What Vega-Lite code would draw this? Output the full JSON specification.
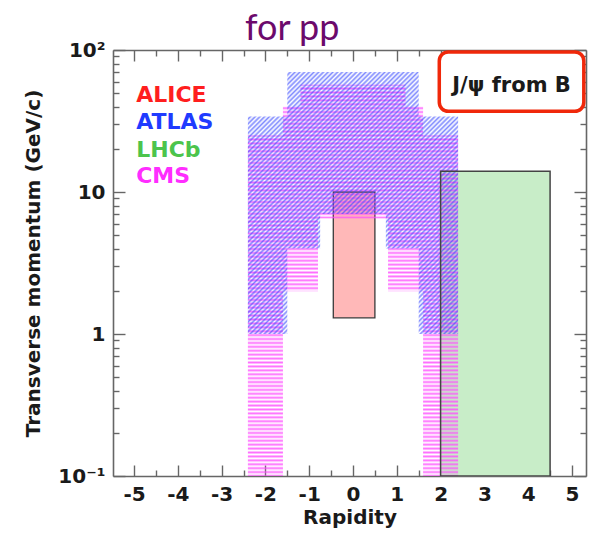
{
  "$schema": "https://vega.github.io/schema/vega-lite/v6.json",
  "autosize": {"type": "none"},
  "width": 473,
  "height": 426,
  "padding": {"left": 113, "top": 50, "right": 6, "bottom": 61},
  "background": "white",
  "datasets": {
    "heading": [{"label": "for pp", "rap": -1.39, "pt": 117.6}],
    "lhcb": [{"exp": "LHCb", "rap_min": 2.0, "rap_max": 4.5, "pt_min": 0.1, "pt_max": 14}],
    "alice": [{"exp": "ALICE", "rap_min": -0.45, "rap_max": 0.5, "pt_min": 1.3, "pt_max": 10}],
    "cms": [
      {"rap": -2.4, "pt_min": 0.1, "pt_max": 25},
      {"rap": -1.6, "pt_min": 2, "pt_max": 40},
      {"rap": -1.2, "pt_min": 2, "pt_max": 57},
      {"rap": -0.8, "pt_min": 6.5, "pt_max": 57},
      {"rap": 0.8, "pt_min": 2, "pt_max": 57},
      {"rap": 1.2, "pt_min": 2, "pt_max": 40},
      {"rap": 1.6, "pt_min": 0.1, "pt_max": 25},
      {"rap": 2.4, "pt_min": 0.1, "pt_max": 25}
    ],
    "atlas": [
      {"rap": -2.4, "pt_min": 1, "pt_max": 34},
      {"rap": -1.5, "pt_min": 4, "pt_max": 70},
      {"rap": -0.75, "pt_min": 7, "pt_max": 70},
      {"rap": 0.75, "pt_min": 4, "pt_max": 70},
      {"rap": 1.5, "pt_min": 1, "pt_max": 34},
      {"rap": 2.4, "pt_min": 1, "pt_max": 34}
    ],
    "tag": [{"label": "J/ψ from B", "rap_min": 1.97, "rap_max": 5.27, "pt_min": 37, "pt_max": 97, "rap": 3.62, "pt": 50.6}],
    "experiments": [
      {"name": "ALICE", "rap": -4.95, "pt": 43.1},
      {"name": "ATLAS", "rap": -4.95, "pt": 27.8},
      {"name": "LHCb", "rap": -4.95, "pt": 17.6},
      {"name": "CMS", "rap": -4.95, "pt": 11.6}
    ]
  },
  "resolve": {"axis": {"x": "independent", "y": "independent"}},
  "layer": [
    {
      "data": {"name": "lhcb"},
      "mark": {"type": "rect", "fill": "#c8edc8", "clip": true},
      "encoding": {
        "x": {"field": "rap_min", "type": "quantitative", "scale": {"domain": [-5.48, 5.32], "nice": false, "zero": false},
          "axis": {"orient": "bottom", "title": "Rapidity",
            "values": [-5,-4.5,-4,-3.5,-3,-2.5,-2,-1.5,-1,-0.5,0,0.5,1,1.5,2,2.5,3,3.5,4,4.5,5],
            "labelExpr": "datum.value % 1 == 0 ? '' + datum.value : ''",
            "tickSize": {"condition": {"test": "datum.value % 1 == 0", "value": -11}, "value": -6},
            "labelPadding": 19, "titlePadding": -2}},
        "x2": {"field": "rap_max"},
        "y": {"field": "pt_min", "type": "quantitative", "scale": {"type": "log", "domain": [0.1, 100], "nice": false},
          "axis": {"orient": "left", "title": "Transverse momentum (GeV/c)",
            "values": [0.1,0.2,0.3,0.4,0.5,0.6,0.7,0.8,0.9,1,2,3,4,5,6,7,8,9,10,20,30,40,50,60,70,80,90,100],
            "labelExpr": "datum.value == 100 ? '10²' : datum.value == 10 ? '10' : datum.value == 1 ? '1' : datum.value == 0.1 ? '10⁻¹' : ''",
            "tickSize": {"condition": {"test": "indexof([0.1,1,10,100], datum.value) >= 0", "value": -12}, "value": -6},
            "labelPadding": 20, "titlePadding": 14}},
        "y2": {"field": "pt_max"}
      }
    },
    {
      "data": {"name": "alice"},
      "mark": {"type": "rect", "fill": "#ffb8b8", "stroke": "#3a3a3a", "strokeWidth": 1.3, "clip": true},
      "encoding": {
        "x": {"field": "rap_min", "type": "quantitative", "axis": null},
        "x2": {"field": "rap_max"},
        "y": {"field": "pt_min", "type": "quantitative", "axis": null},
        "y2": {"field": "pt_max"}
      }
    },
    {
      "data": {"name": "cms"},
      "mark": {"type": "area", "interpolate": "step-after", "clip": true,
        "fill": {"gradient": "linear", "x1": 0, "y1": 0, "x2": 0, "y2": 1, "stops": [
{"offset":0,"color":"#ff4affcc"},{"offset":0.005,"color":"#ff4aff00"},{"offset":0.01,"color":"#ff4affcc"},{"offset":0.015,"color":"#ff4aff00"},{"offset":0.02,"color":"#ff4affcc"},{"offset":0.025,"color":"#ff4aff00"},{"offset":0.03,"color":"#ff4affcc"},{"offset":0.035,"color":"#ff4aff00"},{"offset":0.04,"color":"#ff4affcc"},{"offset":0.045,"color":"#ff4aff00"},
{"offset":0.05,"color":"#ff4affcc"},{"offset":0.055,"color":"#ff4aff00"},{"offset":0.06,"color":"#ff4affcc"},{"offset":0.065,"color":"#ff4aff00"},{"offset":0.07,"color":"#ff4affcc"},{"offset":0.075,"color":"#ff4aff00"},{"offset":0.08,"color":"#ff4affcc"},{"offset":0.085,"color":"#ff4aff00"},{"offset":0.09,"color":"#ff4affcc"},{"offset":0.095,"color":"#ff4aff00"},
{"offset":0.1,"color":"#ff4affcc"},{"offset":0.105,"color":"#ff4aff00"},{"offset":0.11,"color":"#ff4affcc"},{"offset":0.115,"color":"#ff4aff00"},{"offset":0.12,"color":"#ff4affcc"},{"offset":0.125,"color":"#ff4aff00"},{"offset":0.13,"color":"#ff4affcc"},{"offset":0.135,"color":"#ff4aff00"},{"offset":0.14,"color":"#ff4affcc"},{"offset":0.145,"color":"#ff4aff00"},
{"offset":0.15,"color":"#ff4affcc"},{"offset":0.155,"color":"#ff4aff00"},{"offset":0.16,"color":"#ff4affcc"},{"offset":0.165,"color":"#ff4aff00"},{"offset":0.17,"color":"#ff4affcc"},{"offset":0.175,"color":"#ff4aff00"},{"offset":0.18,"color":"#ff4affcc"},{"offset":0.185,"color":"#ff4aff00"},{"offset":0.19,"color":"#ff4affcc"},{"offset":0.195,"color":"#ff4aff00"},
{"offset":0.2,"color":"#ff4affcc"},{"offset":0.205,"color":"#ff4aff00"},{"offset":0.21,"color":"#ff4affcc"},{"offset":0.215,"color":"#ff4aff00"},{"offset":0.22,"color":"#ff4affcc"},{"offset":0.225,"color":"#ff4aff00"},{"offset":0.23,"color":"#ff4affcc"},{"offset":0.235,"color":"#ff4aff00"},{"offset":0.24,"color":"#ff4affcc"},{"offset":0.245,"color":"#ff4aff00"},
{"offset":0.25,"color":"#ff4affcc"},{"offset":0.255,"color":"#ff4aff00"},{"offset":0.26,"color":"#ff4affcc"},{"offset":0.265,"color":"#ff4aff00"},{"offset":0.27,"color":"#ff4affcc"},{"offset":0.275,"color":"#ff4aff00"},{"offset":0.28,"color":"#ff4affcc"},{"offset":0.285,"color":"#ff4aff00"},{"offset":0.29,"color":"#ff4affcc"},{"offset":0.295,"color":"#ff4aff00"},
{"offset":0.3,"color":"#ff4affcc"},{"offset":0.305,"color":"#ff4aff00"},{"offset":0.31,"color":"#ff4affcc"},{"offset":0.315,"color":"#ff4aff00"},{"offset":0.32,"color":"#ff4affcc"},{"offset":0.325,"color":"#ff4aff00"},{"offset":0.33,"color":"#ff4affcc"},{"offset":0.335,"color":"#ff4aff00"},{"offset":0.34,"color":"#ff4affcc"},{"offset":0.345,"color":"#ff4aff00"},
{"offset":0.35,"color":"#ff4affcc"},{"offset":0.355,"color":"#ff4aff00"},{"offset":0.36,"color":"#ff4affcc"},{"offset":0.365,"color":"#ff4aff00"},{"offset":0.37,"color":"#ff4affcc"},{"offset":0.375,"color":"#ff4aff00"},{"offset":0.38,"color":"#ff4affcc"},{"offset":0.385,"color":"#ff4aff00"},{"offset":0.39,"color":"#ff4affcc"},{"offset":0.395,"color":"#ff4aff00"},
{"offset":0.4,"color":"#ff4affcc"},{"offset":0.405,"color":"#ff4aff00"},{"offset":0.41,"color":"#ff4affcc"},{"offset":0.415,"color":"#ff4aff00"},{"offset":0.42,"color":"#ff4affcc"},{"offset":0.425,"color":"#ff4aff00"},{"offset":0.43,"color":"#ff4affcc"},{"offset":0.435,"color":"#ff4aff00"},{"offset":0.44,"color":"#ff4affcc"},{"offset":0.445,"color":"#ff4aff00"},
{"offset":0.45,"color":"#ff4affcc"},{"offset":0.455,"color":"#ff4aff00"},{"offset":0.46,"color":"#ff4affcc"},{"offset":0.465,"color":"#ff4aff00"},{"offset":0.47,"color":"#ff4affcc"},{"offset":0.475,"color":"#ff4aff00"},{"offset":0.48,"color":"#ff4affcc"},{"offset":0.485,"color":"#ff4aff00"},{"offset":0.49,"color":"#ff4affcc"},{"offset":0.495,"color":"#ff4aff00"},
{"offset":0.5,"color":"#ff4affcc"},{"offset":0.505,"color":"#ff4aff00"},{"offset":0.51,"color":"#ff4affcc"},{"offset":0.515,"color":"#ff4aff00"},{"offset":0.52,"color":"#ff4affcc"},{"offset":0.525,"color":"#ff4aff00"},{"offset":0.53,"color":"#ff4affcc"},{"offset":0.535,"color":"#ff4aff00"},{"offset":0.54,"color":"#ff4affcc"},{"offset":0.545,"color":"#ff4aff00"},
{"offset":0.55,"color":"#ff4affcc"},{"offset":0.555,"color":"#ff4aff00"},{"offset":0.56,"color":"#ff4affcc"},{"offset":0.565,"color":"#ff4aff00"},{"offset":0.57,"color":"#ff4affcc"},{"offset":0.575,"color":"#ff4aff00"},{"offset":0.58,"color":"#ff4affcc"},{"offset":0.585,"color":"#ff4aff00"},{"offset":0.59,"color":"#ff4affcc"},{"offset":0.595,"color":"#ff4aff00"},
{"offset":0.6,"color":"#ff4affcc"},{"offset":0.605,"color":"#ff4aff00"},{"offset":0.61,"color":"#ff4affcc"},{"offset":0.615,"color":"#ff4aff00"},{"offset":0.62,"color":"#ff4affcc"},{"offset":0.625,"color":"#ff4aff00"},{"offset":0.63,"color":"#ff4affcc"},{"offset":0.635,"color":"#ff4aff00"},{"offset":0.64,"color":"#ff4affcc"},{"offset":0.645,"color":"#ff4aff00"},
{"offset":0.65,"color":"#ff4affcc"},{"offset":0.655,"color":"#ff4aff00"},{"offset":0.66,"color":"#ff4affcc"},{"offset":0.665,"color":"#ff4aff00"},{"offset":0.67,"color":"#ff4affcc"},{"offset":0.675,"color":"#ff4aff00"},{"offset":0.68,"color":"#ff4affcc"},{"offset":0.685,"color":"#ff4aff00"},{"offset":0.69,"color":"#ff4affcc"},{"offset":0.695,"color":"#ff4aff00"},
{"offset":0.7,"color":"#ff4affcc"},{"offset":0.705,"color":"#ff4aff00"},{"offset":0.71,"color":"#ff4affcc"},{"offset":0.715,"color":"#ff4aff00"},{"offset":0.72,"color":"#ff4affcc"},{"offset":0.725,"color":"#ff4aff00"},{"offset":0.73,"color":"#ff4affcc"},{"offset":0.735,"color":"#ff4aff00"},{"offset":0.74,"color":"#ff4affcc"},{"offset":0.745,"color":"#ff4aff00"},
{"offset":0.75,"color":"#ff4affcc"},{"offset":0.755,"color":"#ff4aff00"},{"offset":0.76,"color":"#ff4affcc"},{"offset":0.765,"color":"#ff4aff00"},{"offset":0.77,"color":"#ff4affcc"},{"offset":0.775,"color":"#ff4aff00"},{"offset":0.78,"color":"#ff4affcc"},{"offset":0.785,"color":"#ff4aff00"},{"offset":0.79,"color":"#ff4affcc"},{"offset":0.795,"color":"#ff4aff00"},
{"offset":0.8,"color":"#ff4affcc"},{"offset":0.805,"color":"#ff4aff00"},{"offset":0.81,"color":"#ff4affcc"},{"offset":0.815,"color":"#ff4aff00"},{"offset":0.82,"color":"#ff4affcc"},{"offset":0.825,"color":"#ff4aff00"},{"offset":0.83,"color":"#ff4affcc"},{"offset":0.835,"color":"#ff4aff00"},{"offset":0.84,"color":"#ff4affcc"},{"offset":0.845,"color":"#ff4aff00"},
{"offset":0.85,"color":"#ff4affcc"},{"offset":0.855,"color":"#ff4aff00"},{"offset":0.86,"color":"#ff4affcc"},{"offset":0.865,"color":"#ff4aff00"},{"offset":0.87,"color":"#ff4affcc"},{"offset":0.875,"color":"#ff4aff00"},{"offset":0.88,"color":"#ff4affcc"},{"offset":0.885,"color":"#ff4aff00"},{"offset":0.89,"color":"#ff4affcc"},{"offset":0.895,"color":"#ff4aff00"},
{"offset":0.9,"color":"#ff4affcc"},{"offset":0.905,"color":"#ff4aff00"},{"offset":0.91,"color":"#ff4affcc"},{"offset":0.915,"color":"#ff4aff00"},{"offset":0.92,"color":"#ff4affcc"},{"offset":0.925,"color":"#ff4aff00"},{"offset":0.93,"color":"#ff4affcc"},{"offset":0.935,"color":"#ff4aff00"},{"offset":0.94,"color":"#ff4affcc"},{"offset":0.945,"color":"#ff4aff00"},
{"offset":0.95,"color":"#ff4affcc"},{"offset":0.955,"color":"#ff4aff00"},{"offset":0.96,"color":"#ff4affcc"},{"offset":0.965,"color":"#ff4aff00"},{"offset":0.97,"color":"#ff4affcc"},{"offset":0.975,"color":"#ff4aff00"},{"offset":0.98,"color":"#ff4affcc"},{"offset":0.985,"color":"#ff4aff00"},{"offset":0.99,"color":"#ff4affcc"},{"offset":0.995,"color":"#ff4aff00"},
{"offset":1,"color":"#ff4affcc"}
        ]}},
      "encoding": {
        "x": {"field": "rap", "type": "quantitative", "axis": null},
        "y": {"field": "pt_max", "type": "quantitative", "axis": null},
        "y2": {"field": "pt_min"}
      }
    },
    {
      "data": {"name": "atlas"},
      "mark": {"type": "area", "interpolate": "step-after", "clip": true,
        "fill": {"gradient": "linear", "x1": 0, "y1": 0, "x2": 0.879, "y2": 1.097, "stops": [
{"offset":0,"color":"#3b4cffa6"},{"offset":0.005,"color":"#3b4cff00"},{"offset":0.01,"color":"#3b4cffa6"},{"offset":0.015,"color":"#3b4cff00"},{"offset":0.02,"color":"#3b4cffa6"},{"offset":0.025,"color":"#3b4cff00"},{"offset":0.03,"color":"#3b4cffa6"},{"offset":0.035,"color":"#3b4cff00"},{"offset":0.04,"color":"#3b4cffa6"},{"offset":0.045,"color":"#3b4cff00"},
{"offset":0.05,"color":"#3b4cffa6"},{"offset":0.055,"color":"#3b4cff00"},{"offset":0.06,"color":"#3b4cffa6"},{"offset":0.065,"color":"#3b4cff00"},{"offset":0.07,"color":"#3b4cffa6"},{"offset":0.075,"color":"#3b4cff00"},{"offset":0.08,"color":"#3b4cffa6"},{"offset":0.085,"color":"#3b4cff00"},{"offset":0.09,"color":"#3b4cffa6"},{"offset":0.095,"color":"#3b4cff00"},
{"offset":0.1,"color":"#3b4cffa6"},{"offset":0.105,"color":"#3b4cff00"},{"offset":0.11,"color":"#3b4cffa6"},{"offset":0.115,"color":"#3b4cff00"},{"offset":0.12,"color":"#3b4cffa6"},{"offset":0.125,"color":"#3b4cff00"},{"offset":0.13,"color":"#3b4cffa6"},{"offset":0.135,"color":"#3b4cff00"},{"offset":0.14,"color":"#3b4cffa6"},{"offset":0.145,"color":"#3b4cff00"},
{"offset":0.15,"color":"#3b4cffa6"},{"offset":0.155,"color":"#3b4cff00"},{"offset":0.16,"color":"#3b4cffa6"},{"offset":0.165,"color":"#3b4cff00"},{"offset":0.17,"color":"#3b4cffa6"},{"offset":0.175,"color":"#3b4cff00"},{"offset":0.18,"color":"#3b4cffa6"},{"offset":0.185,"color":"#3b4cff00"},{"offset":0.19,"color":"#3b4cffa6"},{"offset":0.195,"color":"#3b4cff00"},
{"offset":0.2,"color":"#3b4cffa6"},{"offset":0.205,"color":"#3b4cff00"},{"offset":0.21,"color":"#3b4cffa6"},{"offset":0.215,"color":"#3b4cff00"},{"offset":0.22,"color":"#3b4cffa6"},{"offset":0.225,"color":"#3b4cff00"},{"offset":0.23,"color":"#3b4cffa6"},{"offset":0.235,"color":"#3b4cff00"},{"offset":0.24,"color":"#3b4cffa6"},{"offset":0.245,"color":"#3b4cff00"},
{"offset":0.25,"color":"#3b4cffa6"},{"offset":0.255,"color":"#3b4cff00"},{"offset":0.26,"color":"#3b4cffa6"},{"offset":0.265,"color":"#3b4cff00"},{"offset":0.27,"color":"#3b4cffa6"},{"offset":0.275,"color":"#3b4cff00"},{"offset":0.28,"color":"#3b4cffa6"},{"offset":0.285,"color":"#3b4cff00"},{"offset":0.29,"color":"#3b4cffa6"},{"offset":0.295,"color":"#3b4cff00"},
{"offset":0.3,"color":"#3b4cffa6"},{"offset":0.305,"color":"#3b4cff00"},{"offset":0.31,"color":"#3b4cffa6"},{"offset":0.315,"color":"#3b4cff00"},{"offset":0.32,"color":"#3b4cffa6"},{"offset":0.325,"color":"#3b4cff00"},{"offset":0.33,"color":"#3b4cffa6"},{"offset":0.335,"color":"#3b4cff00"},{"offset":0.34,"color":"#3b4cffa6"},{"offset":0.345,"color":"#3b4cff00"},
{"offset":0.35,"color":"#3b4cffa6"},{"offset":0.355,"color":"#3b4cff00"},{"offset":0.36,"color":"#3b4cffa6"},{"offset":0.365,"color":"#3b4cff00"},{"offset":0.37,"color":"#3b4cffa6"},{"offset":0.375,"color":"#3b4cff00"},{"offset":0.38,"color":"#3b4cffa6"},{"offset":0.385,"color":"#3b4cff00"},{"offset":0.39,"color":"#3b4cffa6"},{"offset":0.395,"color":"#3b4cff00"},
{"offset":0.4,"color":"#3b4cffa6"},{"offset":0.405,"color":"#3b4cff00"},{"offset":0.41,"color":"#3b4cffa6"},{"offset":0.415,"color":"#3b4cff00"},{"offset":0.42,"color":"#3b4cffa6"},{"offset":0.425,"color":"#3b4cff00"},{"offset":0.43,"color":"#3b4cffa6"},{"offset":0.435,"color":"#3b4cff00"},{"offset":0.44,"color":"#3b4cffa6"},{"offset":0.445,"color":"#3b4cff00"},
{"offset":0.45,"color":"#3b4cffa6"},{"offset":0.455,"color":"#3b4cff00"},{"offset":0.46,"color":"#3b4cffa6"},{"offset":0.465,"color":"#3b4cff00"},{"offset":0.47,"color":"#3b4cffa6"},{"offset":0.475,"color":"#3b4cff00"},{"offset":0.48,"color":"#3b4cffa6"},{"offset":0.485,"color":"#3b4cff00"},{"offset":0.49,"color":"#3b4cffa6"},{"offset":0.495,"color":"#3b4cff00"},
{"offset":0.5,"color":"#3b4cffa6"},{"offset":0.505,"color":"#3b4cff00"},{"offset":0.51,"color":"#3b4cffa6"},{"offset":0.515,"color":"#3b4cff00"},{"offset":0.52,"color":"#3b4cffa6"},{"offset":0.525,"color":"#3b4cff00"},{"offset":0.53,"color":"#3b4cffa6"},{"offset":0.535,"color":"#3b4cff00"},{"offset":0.54,"color":"#3b4cffa6"},{"offset":0.545,"color":"#3b4cff00"},
{"offset":0.55,"color":"#3b4cffa6"},{"offset":0.555,"color":"#3b4cff00"},{"offset":0.56,"color":"#3b4cffa6"},{"offset":0.565,"color":"#3b4cff00"},{"offset":0.57,"color":"#3b4cffa6"},{"offset":0.575,"color":"#3b4cff00"},{"offset":0.58,"color":"#3b4cffa6"},{"offset":0.585,"color":"#3b4cff00"},{"offset":0.59,"color":"#3b4cffa6"},{"offset":0.595,"color":"#3b4cff00"},
{"offset":0.6,"color":"#3b4cffa6"},{"offset":0.605,"color":"#3b4cff00"},{"offset":0.61,"color":"#3b4cffa6"},{"offset":0.615,"color":"#3b4cff00"},{"offset":0.62,"color":"#3b4cffa6"},{"offset":0.625,"color":"#3b4cff00"},{"offset":0.63,"color":"#3b4cffa6"},{"offset":0.635,"color":"#3b4cff00"},{"offset":0.64,"color":"#3b4cffa6"},{"offset":0.645,"color":"#3b4cff00"},
{"offset":0.65,"color":"#3b4cffa6"},{"offset":0.655,"color":"#3b4cff00"},{"offset":0.66,"color":"#3b4cffa6"},{"offset":0.665,"color":"#3b4cff00"},{"offset":0.67,"color":"#3b4cffa6"},{"offset":0.675,"color":"#3b4cff00"},{"offset":0.68,"color":"#3b4cffa6"},{"offset":0.685,"color":"#3b4cff00"},{"offset":0.69,"color":"#3b4cffa6"},{"offset":0.695,"color":"#3b4cff00"},
{"offset":0.7,"color":"#3b4cffa6"},{"offset":0.705,"color":"#3b4cff00"},{"offset":0.71,"color":"#3b4cffa6"},{"offset":0.715,"color":"#3b4cff00"},{"offset":0.72,"color":"#3b4cffa6"},{"offset":0.725,"color":"#3b4cff00"},{"offset":0.73,"color":"#3b4cffa6"},{"offset":0.735,"color":"#3b4cff00"},{"offset":0.74,"color":"#3b4cffa6"},{"offset":0.745,"color":"#3b4cff00"},
{"offset":0.75,"color":"#3b4cffa6"},{"offset":0.755,"color":"#3b4cff00"},{"offset":0.76,"color":"#3b4cffa6"},{"offset":0.765,"color":"#3b4cff00"},{"offset":0.77,"color":"#3b4cffa6"},{"offset":0.775,"color":"#3b4cff00"},{"offset":0.78,"color":"#3b4cffa6"},{"offset":0.785,"color":"#3b4cff00"},{"offset":0.79,"color":"#3b4cffa6"},{"offset":0.795,"color":"#3b4cff00"},
{"offset":0.8,"color":"#3b4cffa6"},{"offset":0.805,"color":"#3b4cff00"},{"offset":0.81,"color":"#3b4cffa6"},{"offset":0.815,"color":"#3b4cff00"},{"offset":0.82,"color":"#3b4cffa6"},{"offset":0.825,"color":"#3b4cff00"},{"offset":0.83,"color":"#3b4cffa6"},{"offset":0.835,"color":"#3b4cff00"},{"offset":0.84,"color":"#3b4cffa6"},{"offset":0.845,"color":"#3b4cff00"},
{"offset":0.85,"color":"#3b4cffa6"},{"offset":0.855,"color":"#3b4cff00"},{"offset":0.86,"color":"#3b4cffa6"},{"offset":0.865,"color":"#3b4cff00"},{"offset":0.87,"color":"#3b4cffa6"},{"offset":0.875,"color":"#3b4cff00"},{"offset":0.88,"color":"#3b4cffa6"},{"offset":0.885,"color":"#3b4cff00"},{"offset":0.89,"color":"#3b4cffa6"},{"offset":0.895,"color":"#3b4cff00"},
{"offset":0.9,"color":"#3b4cffa6"},{"offset":0.905,"color":"#3b4cff00"},{"offset":0.91,"color":"#3b4cffa6"},{"offset":0.915,"color":"#3b4cff00"},{"offset":0.92,"color":"#3b4cffa6"},{"offset":0.925,"color":"#3b4cff00"},{"offset":0.93,"color":"#3b4cffa6"},{"offset":0.935,"color":"#3b4cff00"},{"offset":0.94,"color":"#3b4cffa6"},{"offset":0.945,"color":"#3b4cff00"},
{"offset":0.95,"color":"#3b4cffa6"},{"offset":0.955,"color":"#3b4cff00"},{"offset":0.96,"color":"#3b4cffa6"},{"offset":0.965,"color":"#3b4cff00"},{"offset":0.97,"color":"#3b4cffa6"},{"offset":0.975,"color":"#3b4cff00"},{"offset":0.98,"color":"#3b4cffa6"},{"offset":0.985,"color":"#3b4cff00"},{"offset":0.99,"color":"#3b4cffa6"},{"offset":0.995,"color":"#3b4cff00"},
{"offset":1,"color":"#3b4cffa6"}
        ]}},
      "encoding": {
        "x": {"field": "rap", "type": "quantitative", "axis": null},
        "y": {"field": "pt_max", "type": "quantitative", "axis": null},
        "y2": {"field": "pt_min"}
      }
    },
    {
      "data": {"name": "lhcb"},
      "mark": {"type": "rect", "fill": "transparent", "stroke": "#444444", "strokeWidth": 1.5, "clip": true},
      "encoding": {
        "x": {"field": "rap_min", "type": "quantitative",
          "axis": {"orient": "top", "title": null, "labels": false,
            "values": [-5,-4.5,-4,-3.5,-3,-2.5,-2,-1.5,-1,-0.5,0,0.5,1,1.5,2,2.5,3,3.5,4,4.5,5],
            "tickSize": {"condition": {"test": "datum.value % 1 == 0", "value": -11}, "value": -6}}},
        "x2": {"field": "rap_max"},
        "y": {"field": "pt_min", "type": "quantitative",
          "axis": {"orient": "right", "title": null, "labels": false,
            "values": [0.1,0.2,0.3,0.4,0.5,0.6,0.7,0.8,0.9,1,2,3,4,5,6,7,8,9,10,20,30,40,50,60,70,80,90,100],
            "tickSize": {"condition": {"test": "indexof([0.1,1,10,100], datum.value) >= 0", "value": -12}, "value": -6}}},
        "y2": {"field": "pt_max"}
      }
    },
    {
      "data": {"name": "tag"},
      "mark": {"type": "rect", "fill": "white", "stroke": "#f0280a", "strokeWidth": 3.5, "cornerRadius": 9},
      "encoding": {
        "x": {"field": "rap_min", "type": "quantitative", "axis": null},
        "x2": {"field": "rap_max"},
        "y": {"field": "pt_min", "type": "quantitative", "axis": null},
        "y2": {"field": "pt_max"}
      }
    },
    {
      "data": {"name": "tag"},
      "mark": {"type": "text", "font": "DejaVu Sans", "fontWeight": "bold", "fontSize": 21, "color": "#1a1a1a", "align": "center", "baseline": "alphabetic"},
      "encoding": {
        "x": {"field": "rap", "type": "quantitative", "axis": null},
        "y": {"field": "pt", "type": "quantitative", "axis": null},
        "text": {"field": "label"}
      }
    },
    {
      "data": {"name": "experiments"},
      "mark": {"type": "text", "font": "DejaVu Sans", "fontWeight": "bold", "fontSize": 22, "align": "left", "baseline": "alphabetic"},
      "encoding": {
        "x": {"field": "rap", "type": "quantitative", "axis": null},
        "y": {"field": "pt", "type": "quantitative", "axis": null},
        "text": {"field": "name"},
        "color": {"field": "name", "type": "nominal", "legend": null,
          "scale": {"domain": ["ALICE", "ATLAS", "LHCb", "CMS"], "range": ["#ff1e1e", "#1f3bff", "#4cc44c", "#ff2dff"]}}
      }
    },
    {
      "data": {"name": "heading"},
      "mark": {"type": "text", "font": "Lato", "fontSize": 36, "color": "#6c0a6c", "align": "center", "baseline": "alphabetic"},
      "encoding": {
        "x": {"field": "rap", "type": "quantitative", "axis": null},
        "y": {"field": "pt", "type": "quantitative", "axis": null},
        "text": {"field": "label"}
      }
    }
  ],
  "config": {
    "view": {"stroke": null},
    "axis": {
      "grid": false,
      "domainColor": "#666666",
      "domainWidth": 1.6,
      "tickColor": "#666666",
      "tickWidth": 1.4,
      "labelFont": "DejaVu Sans",
      "labelFontWeight": "bold",
      "labelFontSize": 20,
      "labelColor": "#1a1a1a",
      "labelFlush": false,
      "labelOverlap": false,
      "titleFont": "DejaVu Sans",
      "titleFontWeight": "bold",
      "titleFontSize": 20,
      "titleColor": "#1a1a1a"
    }
  }
}
